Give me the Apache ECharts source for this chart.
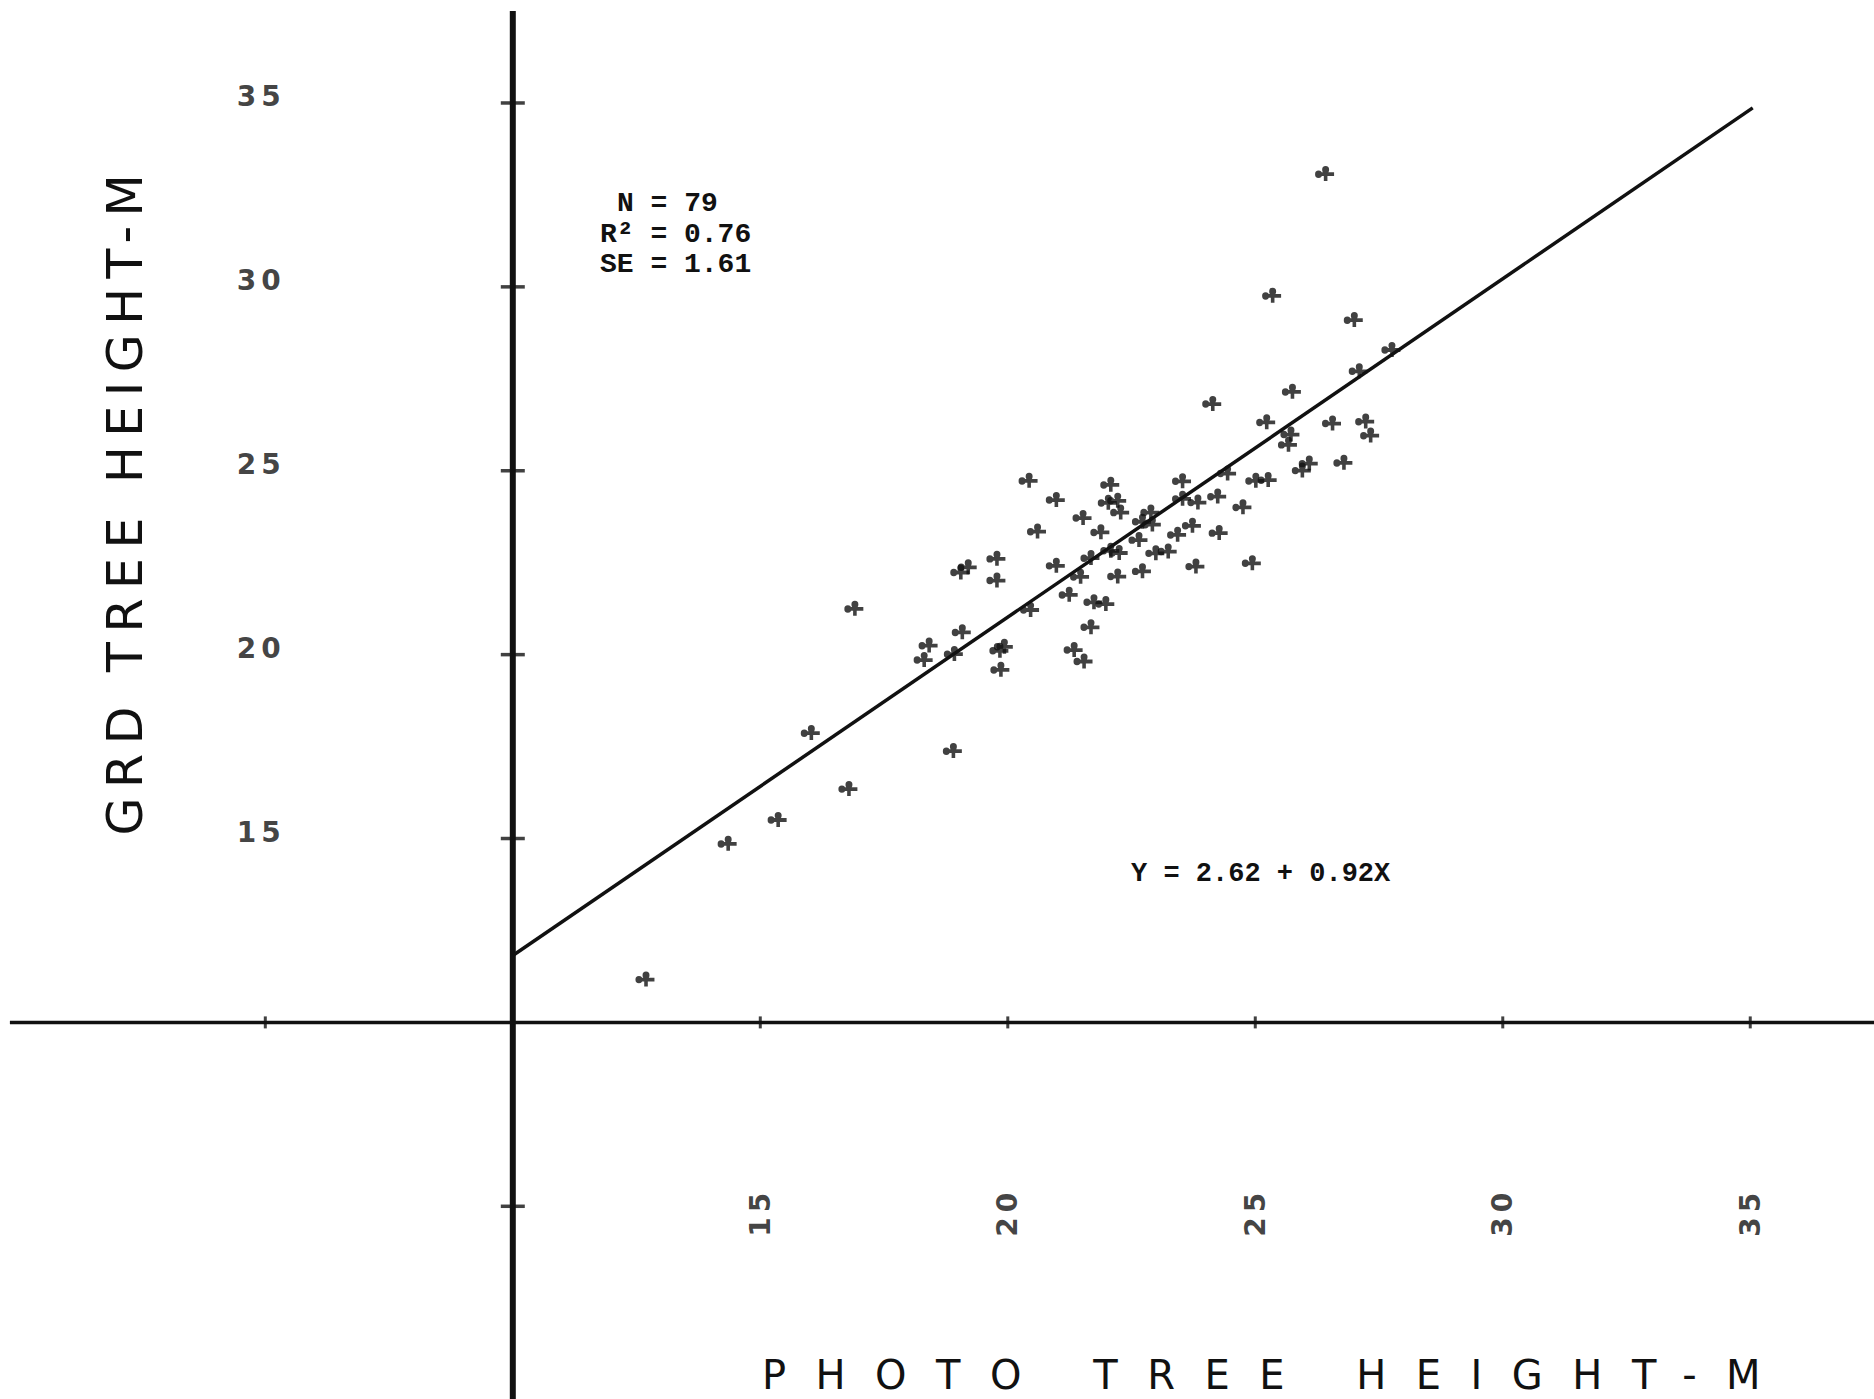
<!DOCTYPE html>
<html>
<head>
<meta charset="utf-8">
<title>Photo vs ground tree height</title>
<script src="https://cdn.jsdelivr.net/npm/echarts@6/dist/echarts.min.js"></script>
<style>
  html, body { margin: 0; padding: 0; background: #fff; }
  #chart { width: 1874px; height: 1399px; }
</style>
</head>
<body>
<div id="chart"></div>
<script>
// photo tree height (x) against ground tree height (y), metres
const photoHeight = [
  20.41, 20.96, 22.06, 22.01, 22.20, 22.26, 21.50, 20.58, 21.86, 22.87,
  22.70, 22.90, 22.63, 22.06, 22.23, 21.66, 22.97, 19.76, 19.18, 19.03,
  20.96, 19.76, 21.45, 22.20, 22.70, 21.22, 21.72, 21.96, 20.44, 19.06,
  21.66, 18.39, 18.29, 18.90, 19.91, 19.82, 19.84, 21.32, 21.52,
  25.21, 26.54, 27.21, 27.31, 25.70, 25.65, 26.77, 26.07, 25.93, 24.42,
  24.99, 25.24, 23.51, 23.51, 23.82, 24.22, 24.73, 23.71, 23.41, 24.25,
  23.22, 23.78, 24.92,
  26.40, 25.33, 26.98, 27.74, 27.08, 25.73, 24.12,
  16.89, 16.01, 16.77, 15.34, 14.33, 12.67, 18.88
];
const groundHeight = [
  24.74, 24.22, 24.63, 24.14, 24.20, 23.88, 23.73, 23.36, 23.34, 23.88,
  23.63, 23.55, 23.13, 22.84, 22.78, 22.64, 22.77, 22.62, 22.39, 22.25,
  22.43, 22.03, 22.13, 22.14, 22.28, 21.64, 21.44, 21.39, 21.23, 20.62,
  20.76, 20.26, 19.87, 20.03, 20.23, 20.12, 19.60, 20.14, 19.83,
  26.33, 26.30, 26.35, 25.97, 26.00, 25.72, 25.23, 25.21, 25.02, 24.94,
  24.74, 24.76, 24.73, 24.25, 24.15, 24.31, 24.02, 23.52, 23.27, 23.32,
  22.82, 22.41, 22.50,
  33.08, 29.77, 29.11, 28.30, 27.72, 27.16, 26.83,
  21.26, 17.88, 16.36, 15.52, 14.87, 11.18, 17.39
];

// axes cross at (10, 10); ticks every 5 m
const axisOrigin = [10, 10];
const xTicks = [5, 15, 20, 25, 30, 35];
const yTicks = [5, 15, 20, 25, 30, 35];
const xLabelValues = [15, 20, 25, 30, 35];
const xTickLabels = ['15', '20', '25', '30', '35'];
const yLabelValues = [15, 20, 25, 30, 35];
const yTickLabels = ['15', '20', '25', '30', '35'];
const labelRow = 5; // labels sit on the 5 m line of the other axis

const xRange = [-0.36, 37.5];
const yRange = [-0.24, 37.8];
const xAxisSpan = [-0.16, 37.5];
const yAxisSpan = [-0.24, 37.5];

// regression
const intercept = 2.62;
const slope = 0.92;
const fitRange = [10, 35.05];
const statLines = ['N = 79', 'R\u00b2 = 0.76', 'SE = 1.61'];
const fitLabel = 'Y = 2.62 + 0.92X';

const xTitle = 'PHOTO TREE HEIGHT-M';
const yTitle = 'GRD TREE HEIGHT-M';

// plotter-style "+" marker with pen dots
const plusMark = 'path://M2 5.6H18V9H2Z M8.3 2H11.7V13.5H8.3Z ' +
  'M0 7.3A3.3 3.3 0 1 1 6.6 7.3A3.3 3.3 0 1 1 0 7.3Z ' +
  'M6.7 3.3A3.3 3.3 0 1 1 13.3 3.3A3.3 3.3 0 1 1 6.7 3.3Z';

const ink = '#111';
const points = photoHeight.map((x, i) => [x, groundHeight[i]]);
const fitLine = fitRange.map(x => [x, intercept + slope * x]);

const chart = echarts.init(document.getElementById('chart'), null, { renderer: 'svg' });

// the plotter lettering is widely spaced; svg text takes css letter-spacing
const spacing = {};
spacing[xTitle] = 29.5;
spacing[yTitle] = 9.5;
xTickLabels.concat(yTickLabels).forEach(t => { spacing[t] = 5; });
chart.on('finished', () => {
  document.querySelectorAll('#chart svg text').forEach(t => {
    const ls = spacing[t.textContent];
    if (ls) t.style.letterSpacing = ls + 'px';
  });
});

const tickLabelStyle = {
  show: true,
  position: 'inside',
  fontFamily: 'DejaVu Sans',
  fontWeight: 'bold',
  fontSize: 28,
  color: ink
};

chart.setOption({
  animation: false,
  backgroundColor: '#fff',
  grid: { left: 0, right: 0, top: 0, bottom: 0 },
  xAxis: { type: 'value', min: xRange[0], max: xRange[1], show: false },
  yAxis: { type: 'value', min: yRange[0], max: yRange[1], show: false },
  series: [
    {
      name: 'y axis',
      type: 'line',
      silent: true,
      symbol: 'none',
      data: yAxisSpan.map(y => [axisOrigin[0], y]),
      lineStyle: { color: ink, width: 6 }
    },
    {
      name: 'x axis',
      type: 'line',
      silent: true,
      symbol: 'none',
      data: xAxisSpan.map(x => [x, axisOrigin[1]]),
      lineStyle: { color: ink, width: 3.5 }
    },
    {
      name: 'y ticks',
      type: 'scatter',
      silent: true,
      symbol: 'rect',
      symbolSize: [24, 3.5],
      data: yTicks.map(v => [axisOrigin[0], v]),
      itemStyle: { color: ink }
    },
    {
      name: 'x ticks',
      type: 'scatter',
      silent: true,
      symbol: 'rect',
      symbolSize: [3, 12],
      data: xTicks.map(v => [v, axisOrigin[1]]),
      itemStyle: { color: ink }
    },
    {
      name: 'x labels',
      type: 'scatter',
      silent: true,
      symbolSize: 0,
      data: xLabelValues.map(v => [v, labelRow]),
      label: Object.assign({}, tickLabelStyle, {
        rotate: 90,
        offset: [-6, 0],
        formatter: p => xTickLabels[p.dataIndex]
      })
    },
    {
      name: 'y labels',
      type: 'scatter',
      silent: true,
      symbolSize: 0,
      data: yLabelValues.map(v => [labelRow, v]),
      label: Object.assign({}, tickLabelStyle, {
        offset: [-4, -6],
        formatter: p => yTickLabels[p.dataIndex]
      })
    },
    {
      name: 'fit',
      type: 'line',
      silent: true,
      symbol: 'none',
      data: fitLine,
      lineStyle: { color: ink, width: 3.5 }
    },
    {
      name: 'trees',
      type: 'scatter',
      symbol: plusMark,
      symbolSize: [19, 15],
      data: points,
      itemStyle: { color: ink }
    }
  ],
  graphic: [
    {
      type: 'text', x: 617, y: 203,
      style: { text: statLines[0], font: 'bold 28px "Liberation Mono"', fill: ink, textVerticalAlign: 'middle' }
    },
    {
      type: 'text', x: 600, y: 234,
      style: { text: statLines[1], font: 'bold 28px "Liberation Mono"', fill: ink, textVerticalAlign: 'middle' }
    },
    {
      type: 'text', x: 600, y: 264,
      style: { text: statLines[2], font: 'bold 28px "Liberation Mono"', fill: ink, textVerticalAlign: 'middle' }
    },
    {
      type: 'text', x: 1131, y: 874,
      style: { text: fitLabel, font: 'bold 27px "Liberation Mono"', fill: ink, textVerticalAlign: 'middle' }
    },
    {
      type: 'text', x: 1276, y: 1375,
      style: { text: xTitle, font: '40px "DejaVu Sans"', fill: ink, textAlign: 'center', textVerticalAlign: 'middle' }
    },
    {
      type: 'text', x: 125, y: 500, rotation: Math.PI / 2,
      style: { text: yTitle, font: '49px "DejaVu Sans"', fill: ink, textAlign: 'center', textVerticalAlign: 'middle' }
    }
  ]
});
</script>
</body>
</html>
